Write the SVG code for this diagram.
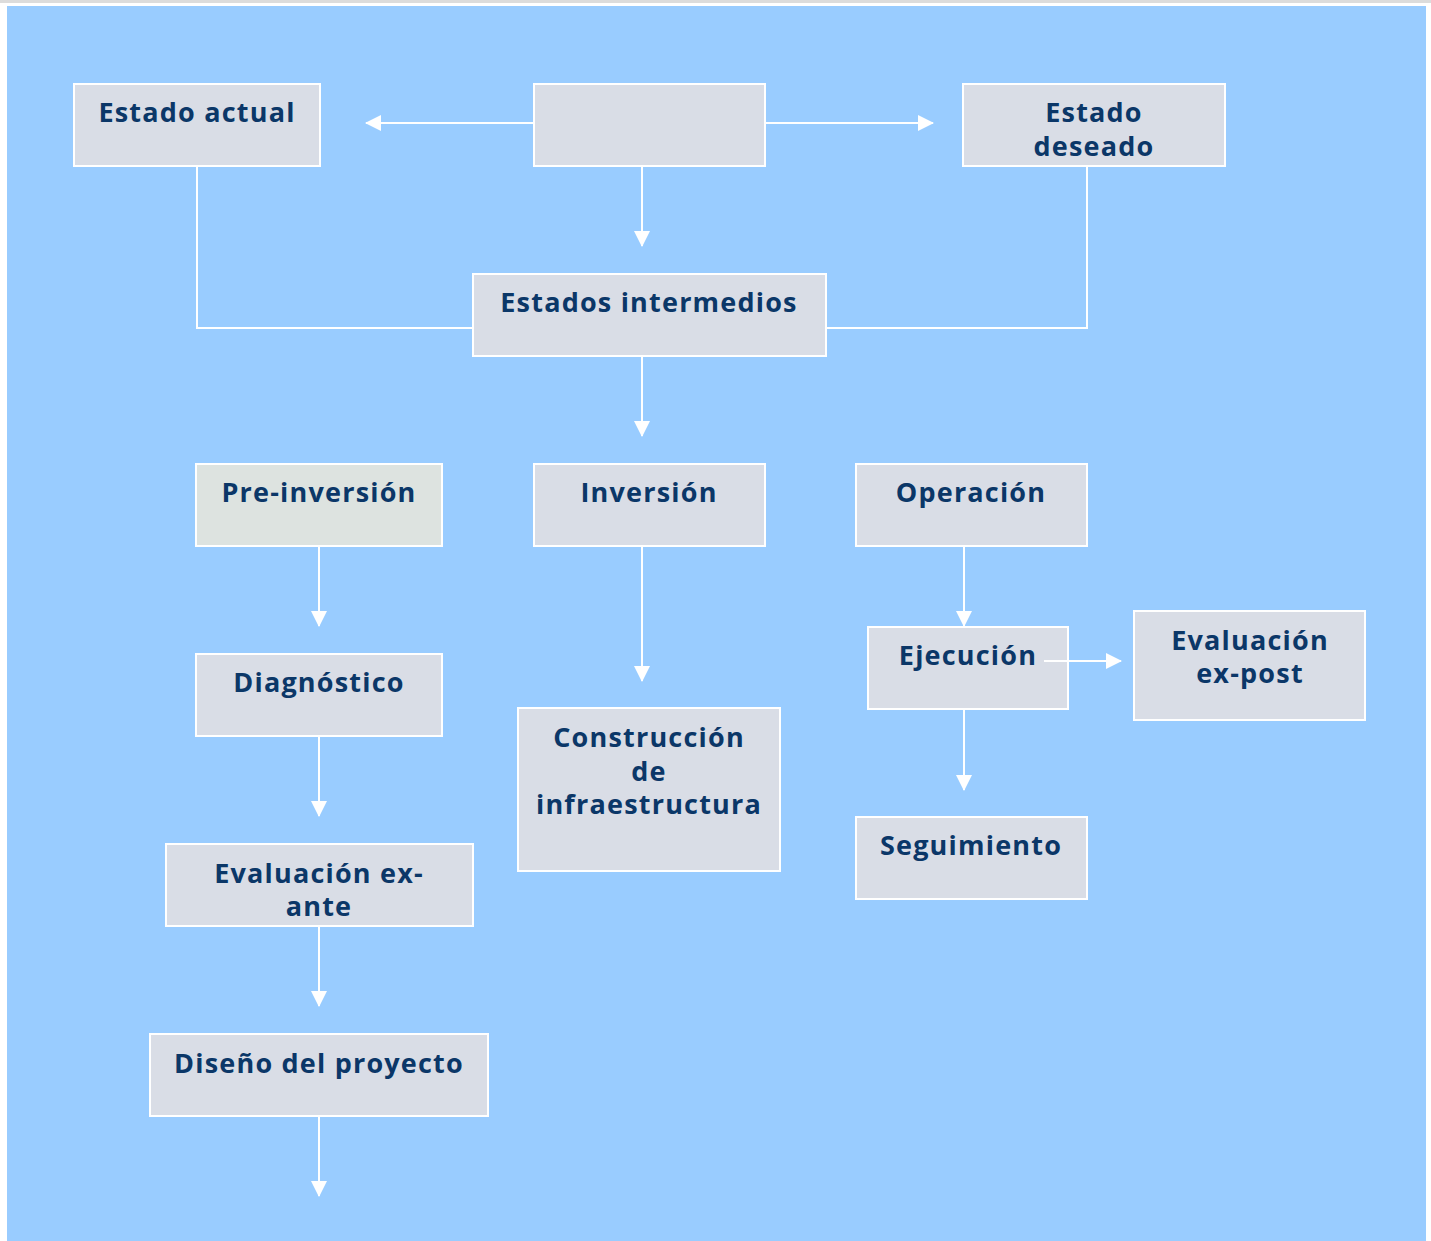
<svg xmlns="http://www.w3.org/2000/svg" width="1431" height="1241" viewBox="0 0 1431 1241">
<defs>
<style>
.box{fill:#d9dde6;stroke:#ffffff;stroke-width:2}
.boxg{fill:#dde3e0;stroke:#ffffff;stroke-width:2}
.t{font-family:"Open Sans","DejaVu Sans",sans-serif;font-weight:bold;font-size:27px;fill:#0b3768;text-anchor:middle;letter-spacing:1.2px}
.c{stroke:#ffffff;stroke-width:2;fill:none}
</style>
<marker id="ah" viewBox="0 0 16 16" refX="15" refY="8" markerWidth="16" markerHeight="16" markerUnits="userSpaceOnUse" orient="auto">
<path d="M0,0 L16,8 L0,16 Z" fill="#ffffff"/>
</marker>
</defs>
<rect x="0" y="0" width="1431" height="1241" fill="#ffffff"/>
<rect x="0" y="0" width="1431" height="3" fill="#dcdcdc"/>
<rect x="7" y="6" width="1419" height="1235" fill="#99ccff"/>

<g id="estado-actual"><rect class="box" x="74" y="84" width="246" height="82"/><text class="t" x="197" y="122">Estado actual</text></g>
<g id="centro"><rect class="box" x="534" y="84" width="231" height="82"/></g>
<g id="estado-deseado"><rect class="box" x="963" y="84" width="262" height="82"/><text class="t" x="1094" y="122">Estado</text><text class="t" x="1094" y="156">deseado</text></g>
<g id="estados-intermedios"><rect class="box" x="473" y="274" width="353" height="82"/><text class="t" x="649" y="312">Estados intermedios</text></g>
<g id="pre-inversion"><rect class="boxg" x="196" y="464" width="246" height="82"/><text class="t" x="319" y="502">Pre-inversión</text></g>
<g id="inversion"><rect class="box" x="534" y="464" width="231" height="82"/><text class="t" x="649" y="502">Inversión</text></g>
<g id="operacion"><rect class="box" x="856" y="464" width="231" height="82"/><text class="t" x="971" y="502">Operación</text></g>
<g id="diagnostico"><rect class="box" x="196" y="654" width="246" height="82"/><text class="t" x="319" y="692">Diagnóstico</text></g>
<g id="evaluacion-ex-ante"><rect class="box" x="166" y="844" width="307" height="82"/><text class="t" x="319" y="883">Evaluación ex-</text><text class="t" x="319" y="916">ante</text></g>
<g id="diseno"><rect class="box" x="150" y="1034" width="338" height="82"/><text class="t" x="319" y="1073">Diseño del proyecto</text></g>
<g id="construccion"><rect class="box" x="518" y="708" width="262" height="163"/><text class="t" x="649" y="747">Construcción</text><text class="t" x="649" y="781">de</text><text class="t" x="649" y="814">infraestructura</text></g>
<g id="ejecucion"><rect class="box" x="868" y="627" width="200" height="82"/><text class="t" x="968" y="665">Ejecución</text></g>
<g id="evaluacion-ex-post"><rect class="box" x="1134" y="611" width="231" height="109"/><text class="t" x="1250" y="650">Evaluación</text><text class="t" x="1250" y="683">ex-post</text></g>
<g id="seguimiento"><rect class="box" x="856" y="817" width="231" height="82"/><text class="t" x="971" y="855">Seguimiento</text></g>

<g id="connectors">
<line class="c" x1="534" y1="123" x2="366" y2="123" marker-end="url(#ah)"/>
<line class="c" x1="765" y1="123" x2="933" y2="123" marker-end="url(#ah)"/>
<line class="c" x1="642" y1="166" x2="642" y2="246" marker-end="url(#ah)"/>
<polyline class="c" points="197,166 197,328 473,328"/>
<polyline class="c" points="1087,166 1087,328 826,328"/>
<line class="c" x1="642" y1="356" x2="642" y2="436" marker-end="url(#ah)"/>
<line class="c" x1="319" y1="546" x2="319" y2="626" marker-end="url(#ah)"/>
<line class="c" x1="642" y1="546" x2="642" y2="681" marker-end="url(#ah)"/>
<line class="c" x1="964" y1="546" x2="964" y2="626" marker-end="url(#ah)"/>
<line class="c" x1="1044" y1="661" x2="1121" y2="661" marker-end="url(#ah)"/>
<line class="c" x1="964" y1="709" x2="964" y2="790" marker-end="url(#ah)"/>
<line class="c" x1="319" y1="736" x2="319" y2="816" marker-end="url(#ah)"/>
<line class="c" x1="319" y1="926" x2="319" y2="1006" marker-end="url(#ah)"/>
<line class="c" x1="319" y1="1116" x2="319" y2="1196" marker-end="url(#ah)"/>
</g>
</svg>
